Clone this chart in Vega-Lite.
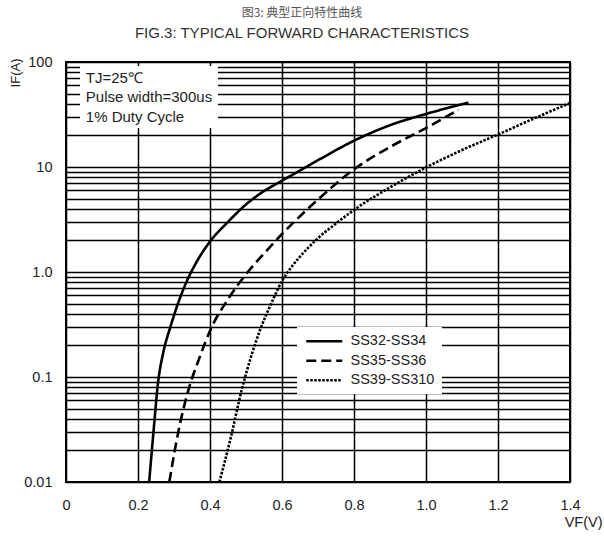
{
  "$schema": "https://vega.github.io/schema/vega-lite/v6.json",
  "width": 504,
  "height": 420,
  "autosize": {"type": "none"},
  "padding": {"left": 66, "top": 62, "right": 34, "bottom": 56},
  "background": "white",
  "title": {
    "text": "图3: 典型正向特性曲线",
    "subtitle": "FIG.3: TYPICAL FORWARD CHARACTERISTICS",
    "font": "Noto Sans CJK SC",
    "fontSize": 12,
    "fontWeight": "normal",
    "color": "#555555",
    "subtitleFont": "Liberation Sans",
    "subtitleFontSize": 15,
    "subtitleColor": "#333333",
    "subtitlePadding": 6,
    "offset": 12,
    "dx": -16,
    "anchor": "middle"
  },
  "config": {
    "view": {"stroke": "#000000", "strokeWidth": 2},
    "font": "Liberation Sans"
  },
  "data": {
    "values": [
      {"series": "SS32-SS34", "voltage": 0.231, "current": 0.01},
      {"series": "SS32-SS34", "voltage": 0.243, "current": 0.03},
      {"series": "SS32-SS34", "voltage": 0.256, "current": 0.09},
      {"series": "SS32-SS34", "voltage": 0.27, "current": 0.17},
      {"series": "SS32-SS34", "voltage": 0.29, "current": 0.3},
      {"series": "SS32-SS34", "voltage": 0.33, "current": 0.74},
      {"series": "SS32-SS34", "voltage": 0.36, "current": 1.2},
      {"series": "SS32-SS34", "voltage": 0.4, "current": 1.95},
      {"series": "SS32-SS34", "voltage": 0.45, "current": 3.0},
      {"series": "SS32-SS34", "voltage": 0.5, "current": 4.4},
      {"series": "SS32-SS34", "voltage": 0.55, "current": 5.9},
      {"series": "SS32-SS34", "voltage": 0.6, "current": 7.4},
      {"series": "SS32-SS34", "voltage": 0.7, "current": 11.6},
      {"series": "SS32-SS34", "voltage": 0.8, "current": 17.8},
      {"series": "SS32-SS34", "voltage": 0.9, "current": 25},
      {"series": "SS32-SS34", "voltage": 1.0, "current": 32},
      {"series": "SS32-SS34", "voltage": 1.118, "current": 41},
      {"series": "SS35-SS36", "voltage": 0.287, "current": 0.01},
      {"series": "SS35-SS36", "voltage": 0.312, "current": 0.03},
      {"series": "SS35-SS36", "voltage": 0.34, "current": 0.075},
      {"series": "SS35-SS36", "voltage": 0.37, "current": 0.15},
      {"series": "SS35-SS36", "voltage": 0.405, "current": 0.3},
      {"series": "SS35-SS36", "voltage": 0.45, "current": 0.55},
      {"series": "SS35-SS36", "voltage": 0.5, "current": 0.95},
      {"series": "SS35-SS36", "voltage": 0.55, "current": 1.5},
      {"series": "SS35-SS36", "voltage": 0.6, "current": 2.3},
      {"series": "SS35-SS36", "voltage": 0.65, "current": 3.4},
      {"series": "SS35-SS36", "voltage": 0.7, "current": 4.9},
      {"series": "SS35-SS36", "voltage": 0.8, "current": 9.5},
      {"series": "SS35-SS36", "voltage": 0.9, "current": 15.5},
      {"series": "SS35-SS36", "voltage": 1.0, "current": 23.5},
      {"series": "SS35-SS36", "voltage": 1.09, "current": 35},
      {"series": "SS39-SS310", "voltage": 0.426, "current": 0.01},
      {"series": "SS39-SS310", "voltage": 0.456, "current": 0.025},
      {"series": "SS39-SS310", "voltage": 0.488, "current": 0.075},
      {"series": "SS39-SS310", "voltage": 0.539, "current": 0.28},
      {"series": "SS39-SS310", "voltage": 0.57, "current": 0.5},
      {"series": "SS39-SS310", "voltage": 0.6, "current": 0.82},
      {"series": "SS39-SS310", "voltage": 0.625, "current": 1.1},
      {"series": "SS39-SS310", "voltage": 0.65, "current": 1.4},
      {"series": "SS39-SS310", "voltage": 0.7, "current": 2.1},
      {"series": "SS39-SS310", "voltage": 0.75, "current": 2.9},
      {"series": "SS39-SS310", "voltage": 0.8, "current": 3.9},
      {"series": "SS39-SS310", "voltage": 0.9, "current": 6.4},
      {"series": "SS39-SS310", "voltage": 1.005, "current": 10.1},
      {"series": "SS39-SS310", "voltage": 1.1, "current": 14.5},
      {"series": "SS39-SS310", "voltage": 1.203, "current": 20.6},
      {"series": "SS39-SS310", "voltage": 1.3, "current": 29},
      {"series": "SS39-SS310", "voltage": 1.402, "current": 41}
    ]
  },
  "layer": [
    {
      "data": {"values": [{"box": "notes"}]},
      "mark": {"type": "rect", "fill": "white"},
      "encoding": {
        "x": {"datum": 0.039, "type": "quantitative"},
        "x2": {"datum": 0.422},
        "y": {"datum": 91.6, "type": "quantitative"},
        "y2": {"datum": 23.5}
      }
    },
    {
      "mark": {"type": "line", "color": "black", "strokeWidth": 2.6, "interpolate": "monotone"},
      "encoding": {
        "x": {
          "field": "voltage",
          "type": "quantitative",
          "scale": {"domain": [0, 1.4], "nice": false, "zero": false},
          "axis": {
            "values": [0, 0.2, 0.4, 0.6, 0.8, 1.0, 1.2, 1.4],
            "grid": true,
            "gridColor": "#000000",
            "gridWidth": 1.5,
            "gridOpacity": 1,
            "domain": false,
            "ticks": false,
            "labelPadding": 16,
            "labelFlush": false,
            "labelFontSize": 14.5,
            "labelColor": "#222222",
            "labelExpr": "datum.value == 0 ? '0' : format(datum.value, '.1f')",
            "title": "VF(V)",
            "titleFontSize": 14.5,
            "titleFontWeight": "normal",
            "titleColor": "#222222",
            "titleX": 536,
            "titleY": 40,
            "titleAlign": "right",
            "titleBaseline": "middle"
          }
        },
        "y": {
          "field": "current",
          "type": "quantitative",
          "scale": {"type": "log", "domain": [0.01, 100], "nice": false},
          "axis": {
            "values": [0.01, 0.02, 0.03, 0.04, 0.05, 0.06, 0.07, 0.08, 0.09, 0.1, 0.2, 0.3, 0.4, 0.5, 0.6, 0.7, 0.8, 0.9, 1, 2, 3, 4, 5, 6, 7, 8, 9, 10, 20, 30, 40, 50, 60, 70, 80, 90, 100],
            "grid": true,
            "gridColor": "#000000",
            "gridWidth": 1.5,
            "gridOpacity": 1,
            "domain": false,
            "ticks": false,
            "labelPadding": 14,
            "labelFlush": false,
            "labelOverlap": false,
            "labelFontSize": 14.5,
            "labelColor": "#222222",
            "labelExpr": "datum.value == 100 ? '100' : datum.value == 10 ? '10' : datum.value == 1 ? '1.0' : datum.value == 0.1 ? '0.1' : datum.value == 0.01 ? '0.01' : ''",
            "title": "IF(A)",
            "titleFontSize": 13,
            "titleFontWeight": "normal",
            "titleColor": "#222222",
            "titleAngle": 270,
            "titleX": -51,
            "titleY": -4,
            "titleAlign": "right",
            "titleBaseline": "middle"
          }
        },
        "strokeDash": {
          "field": "series",
          "type": "nominal",
          "scale": {
            "domain": ["SS32-SS34", "SS35-SS36", "SS39-SS310"],
            "range": [[1, 0], [10, 5], [2.5, 1.5]]
          },
          "legend": {
            "title": null,
            "orient": "none",
            "legendX": 231,
            "legendY": 265,
            "fillColor": "white",
            "padding": 7,
            "symbolType": "M-1,0H6.2",
            "symbolSize": 100,
            "symbolStrokeWidth": 2.6,
            "symbolStrokeColor": "black",
            "labelOffset": 32,
            "labelFontSize": 14.5,
            "labelColor": "#222222",
            "rowPadding": 4.5
          }
        }
      }
    },
    {
      "data": {"values": [{"note": "TJ=25℃"}]},
      "mark": {"type": "text", "align": "left", "baseline": "middle", "fontSize": 15, "color": "#222222"},
      "encoding": {
        "text": {"field": "note"},
        "x": {"datum": 0.055, "type": "quantitative"},
        "y": {"datum": 71, "type": "quantitative"}
      }
    },
    {
      "data": {"values": [{"note": "Pulse width=300us"}]},
      "mark": {"type": "text", "align": "left", "baseline": "middle", "fontSize": 15, "color": "#222222"},
      "encoding": {
        "text": {"field": "note"},
        "x": {"datum": 0.055, "type": "quantitative"},
        "y": {"datum": 46.8, "type": "quantitative"}
      }
    },
    {
      "data": {"values": [{"note": "1% Duty Cycle"}]},
      "mark": {"type": "text", "align": "left", "baseline": "middle", "fontSize": 15, "color": "#222222"},
      "encoding": {
        "text": {"field": "note"},
        "x": {"datum": 0.055, "type": "quantitative"},
        "y": {"datum": 30.1, "type": "quantitative"}
      }
    }
  ]
}
